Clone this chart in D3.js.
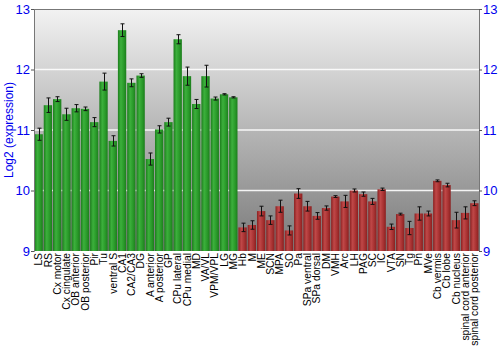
<!DOCTYPE html>
<html><head><meta charset="utf-8">
<script src="https://cdn.jsdelivr.net/npm/d3@7"></script>
<style>body{margin:0;background:#fff}svg{display:block}</style>
</head><body>
<script>
const categories = ["LS","RS","Cx motor","Cx cingulate","OB anterior","OB posterior","Pir","Tu","ventral S","CA1","CA2/CA3","DG","A anterior","A posterior","GP","CPu lateral","CPu medial","MD","VA/VL","VPM/VPL","LG","MG",
"Hb","M","ME","SCN","MPA","SO","Pa","SPa ventral","SPa dorsal","DM","VMH","Arc","LH","PAG","SC","IC","VTA","SN","Tg","Pn","MVe","Cb vermis","Cb lobe","Cb nucleus","spinal cord anterior","spinal cord posterior"];
const values = [10.93,11.41,11.51,11.26,11.36,11.35,11.13,11.80,10.82,12.65,11.78,11.90,10.52,11.01,11.13,12.50,11.89,11.43,11.89,11.52,11.59,11.54,
9.39,9.43,9.66,9.51,9.74,9.34,9.95,9.74,9.58,9.71,9.90,9.82,10.00,9.94,9.82,10.02,9.40,9.61,9.38,9.62,9.62,10.16,10.09,9.51,9.63,9.79];
const errors = [0.10,0.12,0.04,0.10,0.06,0.03,0.075,0.14,0.085,0.105,0.065,0.03,0.10,0.06,0.065,0.075,0.15,0.075,0.18,0.025,0.01,0.01,
0.07,0.07,0.08,0.07,0.10,0.075,0.08,0.08,0.055,0.035,0.015,0.10,0.025,0.035,0.05,0.02,0.045,0.015,0.11,0.11,0.04,0.015,0.03,0.13,0.10,0.04];
const groups = ["high","high","high","high","high","high","high","high","high","high","high","high","high","high","high","high","high","high","high","high","high","high",
"low","low","low","low","low","low","low","low","low","low","low","low","low","low","low","low","low","low","low","low","low","low","low","low","low","low"];
const yTicks = [9,10,11,12,13];

const W=500,H=350, L=34, R=479, T=9, B=251;
const svg=d3.select("body").append("svg").attr("width",W).attr("height",H);
const defs=svg.append("defs");
const bg=defs.append("linearGradient").attr("id","bg").attr("x1",0).attr("y1",0).attr("x2",0).attr("y2",1);
bg.append("stop").attr("offset","0%").attr("stop-color","#f2f2f2");
bg.append("stop").attr("offset","100%").attr("stop-color","#7a7a7a");
function barGrad(id, edge, mid, light){
  const g=defs.append("linearGradient").attr("id",id).attr("x1",0).attr("y1",0).attr("x2",1).attr("y2",0);
  g.append("stop").attr("offset","0%").attr("stop-color",edge);
  g.append("stop").attr("offset","35%").attr("stop-color",light);
  g.append("stop").attr("offset","70%").attr("stop-color",mid);
  g.append("stop").attr("offset","100%").attr("stop-color",edge);
}
barGrad("gGreen","#1c7d1c","#2a9a2a","#3cb03c");
barGrad("gRed","#8a2020","#a83232","#c04848");

const x=d3.scaleBand().domain(categories).range([L,R]).paddingInner(0.1).paddingOuter(0.05);
const y=d3.scaleLinear().domain([9,13]).range([B,T]);

svg.append("rect").attr("x",L).attr("y",T).attr("width",R-L).attr("height",B-T).attr("fill","url(#bg)");
svg.append("g").selectAll("line").data(yTicks.filter(d=>d>9&&d<13)).join("line")
  .attr("x1",L).attr("x2",R).attr("y1",d=>y(d)).attr("y2",d=>y(d))
  .attr("stroke","#ffffff").attr("stroke-width",1.5).attr("opacity",0.9);

const data=categories.map((c,i)=>({c,v:values[i],e:errors[i],g:groups[i]}));
svg.append("g").selectAll("rect").data(data).join("rect")
  .attr("x",d=>x(d.c)).attr("width",x.bandwidth())
  .attr("y",d=>y(d.v)).attr("height",d=>B-y(d.v))
  .attr("fill",d=>d.g==="high"?"url(#gGreen)":"url(#gRed)");

const eb=svg.append("g").attr("stroke","#111").attr("stroke-width",1);
data.forEach(d=>{
  const cx=Math.round(x(d.c)+x.bandwidth()/2)+0.5;
  eb.append("line").attr("x1",cx).attr("x2",cx).attr("y1",y(d.v+d.e)).attr("y2",y(d.v-d.e));
  eb.append("line").attr("x1",cx-2).attr("x2",cx+2).attr("y1",y(d.v+d.e)).attr("y2",y(d.v+d.e));
  eb.append("line").attr("x1",cx-2).attr("x2",cx+2).attr("y1",y(d.v-d.e)).attr("y2",y(d.v-d.e));
});

// frame
svg.append("line").attr("x1",L).attr("x2",R).attr("y1",T+0.5).attr("y2",T+0.5).attr("stroke","#777");
const axL=svg.append("g").attr("transform",`translate(${L},0)`).call(d3.axisLeft(y).tickValues(yTicks).tickSize(3).tickFormat(d3.format("d")));
const axR=svg.append("g").attr("transform",`translate(${R},0)`).call(d3.axisRight(y).tickValues(yTicks).tickSize(3).tickFormat(d3.format("d")));
[axL,axR].forEach(a=>{
  a.select(".domain").attr("stroke","#777");
  a.selectAll(".tick line").attr("stroke","#555");
  a.selectAll(".tick text").attr("fill","#0000ee").attr("font-family","Liberation Sans, Arial, sans-serif").attr("font-size",13);
});
axL.selectAll(".tick text").attr("x",-4);
axR.selectAll(".tick text").attr("x",4);

svg.append("text").attr("transform",`translate(13,${(T+B)/2}) rotate(-90)`).attr("text-anchor","middle")
  .attr("fill","#0000ee").attr("font-family","Liberation Sans, Arial, sans-serif").attr("font-size",12)
  .text("Log2 (expression)");

svg.append("g").selectAll("text").data(categories).join("text")
  .attr("transform",d=>`translate(${x(d)+x.bandwidth()/2+3.7},${B+2}) rotate(-90)`)
  .attr("text-anchor","end").attr("font-family","Liberation Sans, Arial, sans-serif").attr("font-size",10.3)
  .attr("fill","#000").text(d=>d);
</script>
</body></html>
